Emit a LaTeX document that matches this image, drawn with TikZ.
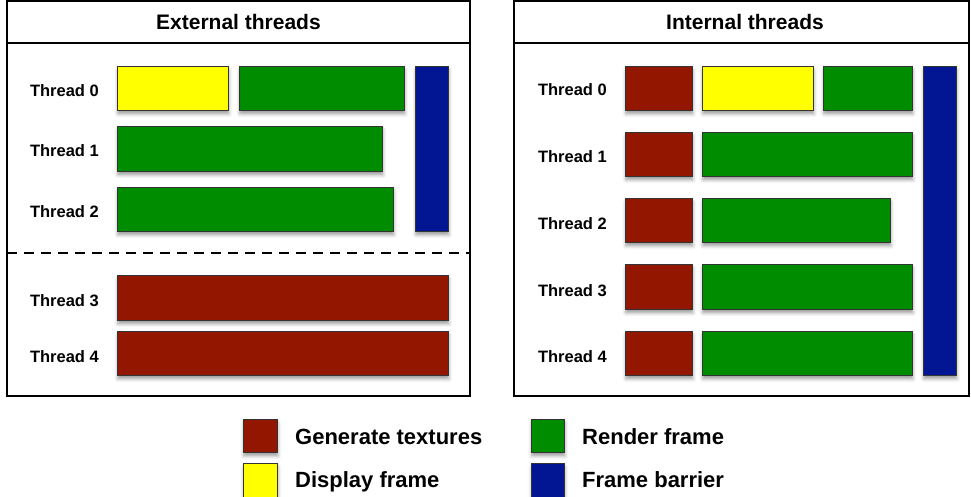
\documentclass[tikz,border=0pt]{standalone}
\usepackage{fontspec}
\setmainfont{Liberation Sans}
\usetikzlibrary{shadows.blur}
\definecolor{cRed}{RGB}{146,22,0}
\definecolor{cGreen}{RGB}{0,140,0}
\definecolor{cYellow}{RGB}{255,255,0}
\definecolor{cBlue}{RGB}{2,22,148}
\tikzset{
  blk/.style={draw=black!80, line width=0.9pt, inner sep=0pt, anchor=north west,
    blur shadow={shadow xshift=0.5pt, shadow yshift=-3.5pt, shadow blur radius=3.5pt, shadow opacity=40}},
  frame/.style={draw=black, line width=1.8pt},
  title/.style={font=\fontsize{21}{25}\selectfont\bfseries},
  lbl/.style={font=\fontsize{16.5}{20}\selectfont\bfseries, anchor=base east, inner sep=0pt},
  leg/.style={font=\fontsize{22}{26}\selectfont\bfseries, anchor=base west, inner sep=0pt},
}
\newcommand\blk[5]{\node[blk, fill=#1, minimum width=#4pt, minimum height=#5pt] (#2) at (#3) {};}
\begin{document}
\begin{tikzpicture}[x=1pt,y=-1pt]
\useasboundingbox (0,0) rectangle (971,497);
% ---------- left panel ----------
\draw[frame] (7,1) rectangle (470,396);
\draw[frame] (7,43) -- (470,43);
\draw[black, line width=1.8pt, dash pattern=on 10pt off 7pt] (7,253) -- (470,253);
\node[title] (tL) at (238.5,22) {External threads};
% bars
\blk{cYellow}{l0y}{117,66}{111}{44}
\blk{cGreen}{l0g}{239,66}{165}{44}
\blk{cBlue}{lB}{415,66}{33}{165}
\blk{cGreen}{l1g}{117,126}{265}{45}
\blk{cGreen}{l2g}{117,187}{276}{44}
\blk{cRed}{l3r}{117,275}{331}{45}
\blk{cRed}{l4r}{117,331}{331}{44}
% labels
\node[lbl] (lt0) at (99,97) {Thread 0};
\node[lbl] (lt1) at (99,157) {Thread 1};
\node[lbl] (lt2) at (99,218) {Thread 2};
\node[lbl] (lt3) at (99,306) {Thread 3};
\node[lbl] (lt4) at (99,362) {Thread 4};
% ---------- right panel ----------
\draw[frame] (514,1) rectangle (969,396);
\draw[frame] (514,43) -- (969,43);
\node[title] (tR) at (745,22) {Internal threads};
\blk{cRed}{r0r}{625,66}{67}{44}
\blk{cYellow}{r0y}{702,66}{111}{44}
\blk{cGreen}{r0g}{823,66}{89}{44}
\blk{cBlue}{rB}{923,66}{33}{309}
\blk{cRed}{r1r}{625,132}{67}{44}
\blk{cGreen}{r1g}{702,132}{210}{44}
\blk{cRed}{r2r}{625,198}{67}{44}
\blk{cGreen}{r2g}{702,198}{188}{44}
\blk{cRed}{r3r}{625,264}{67}{45}
\blk{cGreen}{r3g}{702,264}{210}{45}
\blk{cRed}{r4r}{625,331}{67}{44}
\blk{cGreen}{r4g}{702,331}{210}{44}
\node[lbl] (rt0) at (607,96) {Thread 0};
\node[lbl] (rt1) at (607,163) {Thread 1};
\node[lbl] (rt2) at (607,229) {Thread 2};
\node[lbl] (rt3) at (607,296) {Thread 3};
\node[lbl] (rt4) at (607,362) {Thread 4};
% ---------- legend ----------
\blk{cRed}{kRed}{243,419}{34}{33}
\blk{cYellow}{kYel}{243,463}{34}{34}
\blk{cGreen}{kGrn}{531,419}{33}{33}
\blk{cBlue}{kBlu}{531,463}{33}{34}
\node[leg] (gRed) at (295,444) {Generate textures};
\node[leg] (gYel) at (295,487) {Display frame};
\node[leg] (gGrn) at (582,444) {Render frame};
\node[leg] (gBlu) at (582,487) {Frame barrier};
\end{tikzpicture}
\end{document}
